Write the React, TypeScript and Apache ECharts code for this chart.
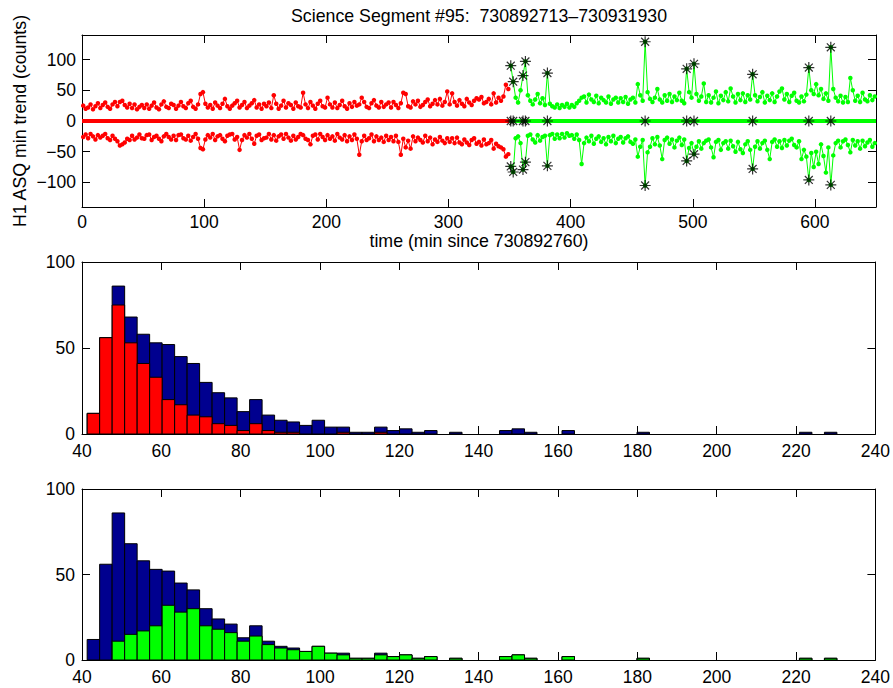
import React, { useEffect, useRef } from "react";
import * as echarts from "echarts";

// ---------- texts ----------
const titleText = "Science Segment #95:  730892713\u2013730931930";
const yLabelTop = "H1 ASQ min trend (counts)";
const xLabelTop = "time (min since 730892760)";

// ---------- time series (one sample every 2 minutes) ----------
const redFirstTime = 1;
const greenFirstTime = 351;
const sampleStep = 2;

const upperRed = [
  25, 20, 22, 27, 19, 24, 29, 21, 26, 30, 23, 20, 27, 31, 24, 31, 33, 26, 22, 28, 21, 27, 19, 23, 26,
  21, 27, 20, 25, 30, 22, 19, 27, 32, 23, 21, 28, 26, 20, 25, 31, 24, 21, 29, 33, 23, 20, 27, 44, 47,
  28, 22, 26, 20, 30, 25, 21, 28, 36, 24, 20, 25, 29, 33, 22, 26, 31, 21, 25, 29, 34, 22, 27, 20, 28,
  24, 30, 21, 42, 28, 20, 25, 33, 22, 29, 26, 20, 30, 24, 22, 46, 27, 21, 31, 25, 20, 28, 33, 24, 22,
  38, 27, 22, 30, 21, 26, 33, 24, 20, 29, 23, 31, 25, 27, 38, 31, 23, 21, 29, 34, 25, 22, 31, 23, 27,
  30, 22, 31, 26, 21, 29, 46, 44, 24, 22, 32, 27, 33, 23, 26, 31, 35, 24, 28, 34, 27, 36, 25, 31, 48,
  27, 45, 31, 25, 34, 28, 24, 36, 30, 26, 33, 37, 35, 39, 29, 31, 36, 27, 45, 30, 38, 33, 40, 59, 52,
];
const lowerRed = [
  -26, -22, -28, -21, -25, -30, -23, -27, -24, -21, -28, -31, -24, -29, -33, -40, -38, -35, -29, -31, -24, -30, -27, -22, -28,
  -29, -23, -22, -31, -26, -24, -29, -33, -25, -21, -26, -30, -24, -31, -23, -22, -28, -30, -24, -32, -26, -21, -29, -44, -46,
  -30, -23, -27, -21, -31, -25, -23, -29, -33, -24, -22, -21, -30, -26, -47, -31, -23, -27, -21, -29, -37, -24, -22, -31, -28,
  -27, -21, -30, -23, -32, -25, -22, -29, -21, -27, -32, -24, -30, -26, -21, -23, -29, -31, -38, -24, -22, -30, -21, -26, -31,
  -23, -29, -25, -32, -21, -27, -30, -23, -33, -25, -31, -22, -29, -55, -33, -24, -31, -28, -22, -33, -25, -31, -27, -34, -24,
  -31, -26, -33, -24, -34, -55, -29, -43, -32, -45, -25, -33, -27, -31, -35, -24, -33, -27, -38, -30, -34, -26, -32, -36, -28,
  -34, -28, -36, -27, -35, -38, -30, -35, -39, -31, -28, -37, -34, -40, -30, -38, -36, -31, -45, -37, -41, -43, -46, -58, -54,
];
const upperGreen = [
  90, 64, 38, 30, 50, 74, 97, 42, 33, 27, 35, 44, 29, 37, 26, 78, 28, 24, 22, 27, 21, 26, 23, 28, 22,
  26, 23, 29, 33, 38, 40, 30, 43, 35, 31, 41, 29, 38, 34, 30, 40, 28, 35, 38, 30, 37, 31, 39, 28, 35,
  38, 30, 60, 42, 33, 129, 47, 36, 31, 38, 52, 35, 30, 42, 33, 44, 31, 40, 34, 46, 33, 29, 85, 47, 38,
  93, 44, 33, 40, 61, 31, 42, 30, 38, 48, 29, 41, 34, 47, 32, 53, 40, 30, 44, 34, 45, 31, 42, 35, 76,
  42, 32, 39, 47, 30, 41, 34, 45, 31, 40, 48, 53, 35, 44, 31, 41, 46, 33, 30, 40, 32, 43, 87, 50, 44,
  60, 42, 52, 36, 45, 33, 120, 52, 38, 32, 41, 30, 39, 31, 70, 50, 33, 41, 31, 46, 35, 32, 42, 34, 40,
];
const lowerGreen = [
  -74, -83, -28, -25, -36, -79, -67, -24, -22, -30, -35, -23, -32, -26, -24, -73, -23, -21, -29, -22, -28, -21, -27, -20, -24,
  -23, -29, -22, -31, -70, -36, -27, -33, -24, -37, -29, -25, -34, -28, -38, -26, -33, -24, -36, -29, -26, -35, -28, -25, -34,
  -37, -30, -58, -42, -31, -105, -51, -42, -28, -38, -26, -40, -62, -31, -27, -37, -30, -43, -32, -27, -39, -30, -65, -44, -36,
  -54, -42, -33, -45, -36, -32, -30, -43, -59, -34, -31, -47, -36, -33, -45, -32, -41, -50, -34, -46, -52, -38, -33, -47, -78,
  -42, -33, -45, -36, -32, -47, -62, -34, -30, -42, -33, -44, -31, -40, -32, -29, -39, -43, -33, -62, -47, -58, -96, -52, -75,
  -50, -70, -38, -57, -84, -43, -104, -56, -36, -32, -43, -33, -30, -39, -51, -31, -40, -33, -45, -32, -41, -35, -31, -42, -36,
];
// times flagged with an asterisk
const eventTimes = [351, 353, 361, 363, 381, 461, 495, 501, 549, 595, 613];

// ---------- histograms (60 bins) ----------
const binStart = 41.3;
const binWidth = 3.15;
const histTotal = [
  12, 56, 86, 68, 58, 53, 52, 45, 41, 30, 24, 21, 13, 20, 11, 8, 7, 5, 8, 4,
  4, 1, 1, 4, 2, 3, 1, 2, 0, 1, 0, 0, 0, 2, 3, 1, 0, 0, 2, 0,
  0, 0, 0, 0, 1, 0, 0, 0, 0, 0, 0, 0, 0, 0, 0, 0, 0, 1, 0, 1,
];
const histRed = [
  12, 56, 75, 53, 41, 33, 20, 17, 11, 10, 6, 5, 2, 6, 2, 1, 1, 0, 0, 0,
  1, 0, 0, 1, 0, 0, 0, 0, 0, 0, 0, 0, 0, 0, 0, 0, 0, 0, 0, 0,
  0, 0, 0, 0, 0, 0, 0, 0, 0, 0, 0, 0, 0, 0, 0, 0, 0, 0, 0, 0,
];
const histGreen = [
  0, 0, 11, 15, 17, 20, 32, 28, 30, 20, 18, 16, 11, 14, 9, 7, 6, 5, 8, 4,
  3, 1, 1, 3, 2, 3, 1, 2, 0, 1, 0, 0, 0, 2, 3, 1, 0, 0, 2, 0,
  0, 0, 0, 0, 1, 0, 0, 0, 0, 0, 0, 0, 0, 0, 0, 0, 0, 1, 0, 1,
];

// ---------- styles ----------
const FONT = "'Liberation Sans', Arial, Helvetica, sans-serif";
const FS = 17.75;
const TICK_FS = 17.5;
const RED = "#ff0000";
const GREEN = "#00ff00";
const NAVY = "#00008f";
const TICK_LEN = 8;

const minusFmt = (v: number) => String(v).replace("-", "\u2212");

function makeAxis(kind: "x" | "y", grid: number, opts: any, mirror: boolean) {
  const { hideEnds, hideMax, margin, ...scale } = opts;
  return {
    type: "value",
    gridIndex: grid,
    position: kind === "x" ? (mirror ? "top" : "bottom") : mirror ? "right" : "left",
    ...scale,
    axisLine: { show: true, onZero: false, lineStyle: { color: "#000", width: 1 } },
    axisTick: { show: true, inside: true, length: TICK_LEN, lineStyle: { color: "#000", width: 1 } },
    axisLabel: {
      show: !mirror,
      color: "#000",
      fontSize: TICK_FS,
      fontFamily: FONT,
      margin: margin ?? 6,
      formatter: minusFmt,
      showMinLabel: hideEnds ? false : true,
      showMaxLabel: hideEnds || hideMax ? false : true,
    },
    splitLine: { show: false },
  };
}

function histSeries(counts: number[], color: string, xi: number, yi: number, z: number) {
  const data = counts
    .map((c, i) => [binStart + i * binWidth, binStart + (i + 1) * binWidth, c])
    .filter((d) => d[2] > 0);
  return {
    type: "custom",
    xAxisIndex: xi,
    yAxisIndex: yi,
    z,
    silent: true,
    encode: { x: [0, 1], y: 2 },
    data,
    renderItem: (params: any, api: any) => {
      const p0 = api.coord([api.value(0), api.value(2)]);
      const p1 = api.coord([api.value(1), 0]);
      return {
        type: "rect",
        shape: { x: p0[0], y: p0[1], width: p1[0] - p0[0], height: p1[1] - p0[1] },
        style: { fill: color, stroke: "#000", lineWidth: 1 },
      };
    },
  };
}

const STAR = "path://M0,-5L0,5M-5,0L5,0M-3.6,-3.6L3.6,3.6M-3.6,3.6L3.6,-3.6";

export default function App() {
  const ref = useRef<HTMLDivElement>(null);
  useEffect(() => {
    if (!ref.current) return;
    const chart = echarts.init(ref.current, null, { renderer: "svg" });

    const redT = upperRed.map((_, i) => redFirstTime + i * sampleStep);
    const greenT = upperGreen.map((_, i) => greenFirstTime + i * sampleStep);
    const pairs = (ts: number[], vs: number[]) => ts.map((t, i) => [t, vs[i]]);

    const stars: number[][] = [];
    eventTimes.forEach((t) => {
      const k = greenT.indexOf(t);
      stars.push([t, upperGreen[k]]);
      stars.push([t, 0]);
      stars.push([t, lowerGreen[k]]);
    });

    const lineSeries = (data: number[][], color: string) => ({
      type: "line",
      xAxisIndex: 0,
      yAxisIndex: 0,
      data,
      symbol: "circle",
      symbolSize: 4.5,
      showSymbol: true,
      showAllSymbol: true,
      silent: true,
      itemStyle: { color },
      lineStyle: { color, width: 1 },
      z: 3,
    });
    const zeroSeries = (ts: number[], color: string) => ({
      type: "line",
      xAxisIndex: 0,
      yAxisIndex: 0,
      data: ts.map((t) => [t, 0]),
      showSymbol: false,
      silent: true,
      lineStyle: { color, width: 4 },
      z: 3,
    });

    const option: any = {
      animation: false,
      backgroundColor: "#fff",
      textStyle: { fontFamily: FONT },
      grid: [
        { left: 82, width: 794, top: 35, height: 172 },
        { left: 82, width: 794, top: 262, height: 172 },
        { left: 82, width: 794, top: 489, height: 171 },
      ],
      xAxis: [
        makeAxis("x", 0, { min: 0, max: 650, interval: 100, hideMax: true }, false),
        makeAxis("x", 0, { min: 0, max: 650, interval: 100 }, true),
        makeAxis("x", 1, { min: 40, max: 240, interval: 20, margin: 8 }, false),
        makeAxis("x", 1, { min: 40, max: 240, interval: 20 }, true),
        makeAxis("x", 2, { min: 40, max: 240, interval: 20, margin: 8 }, false),
        makeAxis("x", 2, { min: 40, max: 240, interval: 20 }, true),
      ],
      yAxis: [
        makeAxis("y", 0, { min: -140, max: 140, splitNumber: 5, hideEnds: true }, false),
        makeAxis("y", 0, { min: -140, max: 140, splitNumber: 5 }, true),
        makeAxis("y", 1, { min: 0, max: 100, interval: 50, margin: 7 }, false),
        makeAxis("y", 1, { min: 0, max: 100, interval: 50 }, true),
        makeAxis("y", 2, { min: 0, max: 100, interval: 50, margin: 7 }, false),
        makeAxis("y", 2, { min: 0, max: 100, interval: 50 }, true),
      ],
      series: [
        lineSeries(pairs(redT, upperRed), RED),
        lineSeries(pairs(redT, lowerRed), RED),
        lineSeries(pairs(greenT, upperGreen), GREEN),
        lineSeries(pairs(greenT, lowerGreen), GREEN),
        zeroSeries([0, ...redT, 350], RED),
        zeroSeries([350, ...greenT, 650], GREEN),
        {
          type: "scatter",
          xAxisIndex: 0,
          yAxisIndex: 0,
          data: stars,
          symbol: STAR,
          symbolSize: 11,
          silent: true,
          itemStyle: { color: "#000", borderColor: "#000", borderWidth: 1.2 },
          z: 5,
        },
        histSeries(histTotal, NAVY, 2, 2, 2),
        histSeries(histRed, RED, 2, 2, 3),
        histSeries(histTotal, NAVY, 4, 4, 2),
        histSeries(histGreen, GREEN, 4, 4, 3),
      ],
      graphic: [
        {
          type: "text",
          x: 479,
          y: 16,
          style: { text: titleText, font: `${FS}px ${FONT}`, fill: "#000", textAlign: "center", textVerticalAlign: "middle" },
        },
        {
          type: "text",
          x: 479,
          y: 241,
          style: { text: xLabelTop, font: `${FS}px ${FONT}`, fill: "#000", textAlign: "center", textVerticalAlign: "middle" },
        },
        {
          type: "text",
          x: 20,
          y: 121,
          rotation: Math.PI / 2,
          style: { text: yLabelTop, font: `${FS}px ${FONT}`, fill: "#000", textAlign: "center", textVerticalAlign: "middle" },
        },
      ],
    };
    chart.setOption(option);
    return () => chart.dispose();
  }, []);

  return (
    <div
      ref={ref}
      style={{ position: "fixed", left: 0, top: 0, width: 893, height: 688, background: "#fff" }}
    />
  );
}
